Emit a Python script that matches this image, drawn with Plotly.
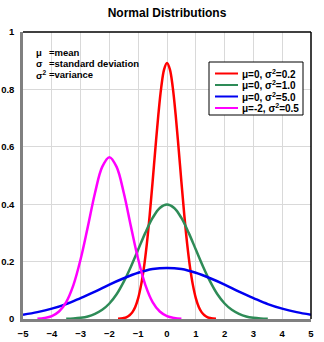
import plotly.graph_objects as go

# ---- data ----
red_x = [-1.7, -1.6, -1.5, -1.4, -1.3, -1.2, -1.1, -1.0, -0.9, -0.8, -0.7, -0.6, -0.5, -0.4, -0.3, -0.2, -0.1,
         0.0, 0.1, 0.2, 0.3, 0.4, 0.5, 0.6, 0.7, 0.8, 0.9, 1.0, 1.1, 1.2, 1.3, 1.4, 1.5, 1.6, 1.7]
red_y = [0.0006, 0.0015, 0.0032, 0.0066, 0.013, 0.024, 0.043, 0.073, 0.118, 0.180, 0.262, 0.363, 0.478, 0.598, 0.712, 0.807, 0.870,
         0.892, 0.870, 0.807, 0.712, 0.598, 0.478, 0.363, 0.262, 0.180, 0.118, 0.073, 0.043, 0.024, 0.013, 0.0066, 0.0032, 0.0015, 0.0006]

green_x = [-3.5, -3.25, -3.0, -2.75, -2.5, -2.25, -2.0, -1.75, -1.5, -1.25, -1.0, -0.75, -0.5, -0.25,
           0.0, 0.25, 0.5, 0.75, 1.0, 1.25, 1.5, 1.75, 2.0, 2.25, 2.5, 2.75, 3.0, 3.25, 3.5]
green_y = [0.0009, 0.002, 0.0044, 0.009, 0.018, 0.032, 0.054, 0.086, 0.130, 0.183, 0.242, 0.301, 0.352, 0.387,
           0.399, 0.387, 0.352, 0.301, 0.242, 0.183, 0.130, 0.086, 0.054, 0.032, 0.018, 0.009, 0.0044, 0.002, 0.0009]

blue_x = [-5.0, -4.5, -4.0, -3.5, -3.0, -2.5, -2.0, -1.5, -1.0, -0.5, 0.0,
          0.5, 1.0, 1.5, 2.0, 2.5, 3.0, 3.5, 4.0, 4.5, 5.0]
blue_y = [0.015, 0.024, 0.036, 0.052, 0.073, 0.095, 0.120, 0.142, 0.161, 0.174, 0.178,
          0.174, 0.161, 0.142, 0.120, 0.095, 0.073, 0.052, 0.036, 0.024, 0.015]

magenta_x = [-4.5, -4.25, -4.0, -3.75, -3.5, -3.25, -3.0, -2.75, -2.5, -2.25, -2.0,
             -1.75, -1.5, -1.25, -1.0, -0.75, -0.5, -0.25, 0.0, 0.25, 0.5]
magenta_y = [0.0011, 0.0036, 0.010, 0.026, 0.059, 0.118, 0.208, 0.321, 0.439, 0.530, 0.564,
             0.530, 0.439, 0.321, 0.208, 0.118, 0.059, 0.026, 0.010, 0.0036, 0.0011]

series_names = ["μ=0, σ<sup>2</sup>=0.2", "μ=0, σ<sup>2</sup>=1.0", "μ=0, σ<sup>2</sup>=5.0", "μ=-2, σ<sup>2</sup>=0.5"]
x_ticks = [-5, -4, -3, -2, -1, 0, 1, 2, 3, 4, 5]
y_ticks = [0, 0.2, 0.4, 0.6, 0.8, 1]
y_ticktext = ["0", "0.2", "0.4", "0.6", "0.8", "1"]
notes_sym = ["μ", "σ", "σ<sup>2</sup>"]
notes_txt = ["=mean", "=standard deviation", "=variance"]

# ---- styling ----
W, H = 324, 342
L, R, T, B = 23, 311, 32, 319
colors = ["#FF0000", "#2E8B57", "#0000F0", "#FF00FF"]
FONT = "Liberation Sans, Arial, sans-serif"


def px(xp):
    return (xp - L) / (R - L)


def py(yp):
    return (B - yp) / (B - T)


fig = go.Figure()
for (xs, ys), name, c in zip([(red_x, red_y), (green_x, green_y), (blue_x, blue_y), (magenta_x, magenta_y)],
                             series_names, colors):
    fig.add_trace(go.Scatter(x=xs, y=ys, mode="lines", name=name, showlegend=False,
                             line=dict(color=c, width=2.5, shape="spline", smoothing=1.0)))

shapes = []
# top and right border
shapes.append(dict(type="line", xref="paper", yref="paper", x0=0, x1=1, y0=1, y1=1,
                   line=dict(color="black", width=1.5), layer="above"))
shapes.append(dict(type="line", xref="paper", yref="paper", x0=1, x1=1, y0=0, y1=1,
                   line=dict(color="black", width=1.5), layer="above"))

annotations = []
# manual legend
shapes.append(dict(type="rect", xref="paper", yref="paper", x0=px(209), x1=px(303), y0=py(115), y1=py(62),
                   line=dict(color="black", width=1), fillcolor="white", layer="above"))
rows = [73.5, 85, 96.5, 108]
for name, c, ry in zip(series_names, colors, rows):
    shapes.append(dict(type="line", xref="paper", yref="paper", x0=px(215), x1=px(238), y0=py(ry), y1=py(ry),
                       line=dict(color=c, width=2), layer="above"))
    annotations.append(dict(xref="paper", yref="paper", x=px(240), y=py(ry), text="<b>" + name + "</b>",
                            showarrow=False, xanchor="left", yanchor="middle",
                            font=dict(family=FONT, size=10, color="black")))

# notes top-left
for s, t, ry in zip(notes_sym, notes_txt, [52.5, 63.5, 74.5]):
    annotations.append(dict(xref="paper", yref="paper", x=px(34), y=py(ry), text="<b>" + s + "</b>",
                            showarrow=False, xanchor="left", yanchor="middle",
                            font=dict(family=FONT, size=9.5, color="black")))
    annotations.append(dict(xref="paper", yref="paper", x=px(47), y=py(ry), text="<b>" + t + "</b>",
                            showarrow=False, xanchor="left", yanchor="middle",
                            font=dict(family=FONT, size=9.5, color="black")))

fig.update_layout(
    width=W, height=H, autosize=False,
    margin=dict(l=L, r=W - R, t=T, b=H - B, pad=0, autoexpand=False),
    paper_bgcolor="white", plot_bgcolor="white",
    title=dict(text="<b>Normal Distributions</b>", x=(L + R) / 2 / W, xanchor="center",
               y=1 - 13 / H, yanchor="middle", font=dict(family=FONT, size=12, color="black"),
               automargin=False),
    shapes=shapes, annotations=annotations,
    xaxis=dict(range=[-5, 5], tickvals=x_ticks, showgrid=True, gridcolor="#D9D9D9", gridwidth=1,
               showline=True, linecolor="#808080", linewidth=2.5, zeroline=False, ticks="",
               automargin=False, ticklabelstandoff=4,
               tickfont=dict(family=FONT, size=9.5, color="black", weight="bold"), fixedrange=True),
    yaxis=dict(range=[0, 1], tickvals=y_ticks, ticktext=y_ticktext, showgrid=True, gridcolor="#D9D9D9",
               gridwidth=1, showline=True, linecolor="#808080", linewidth=2.5, zeroline=False, ticks="",
               automargin=False, ticklabelstandoff=4,
               tickfont=dict(family=FONT, size=9.5, color="black", weight="bold"), fixedrange=True),
)

fig.write_html("out.html")
